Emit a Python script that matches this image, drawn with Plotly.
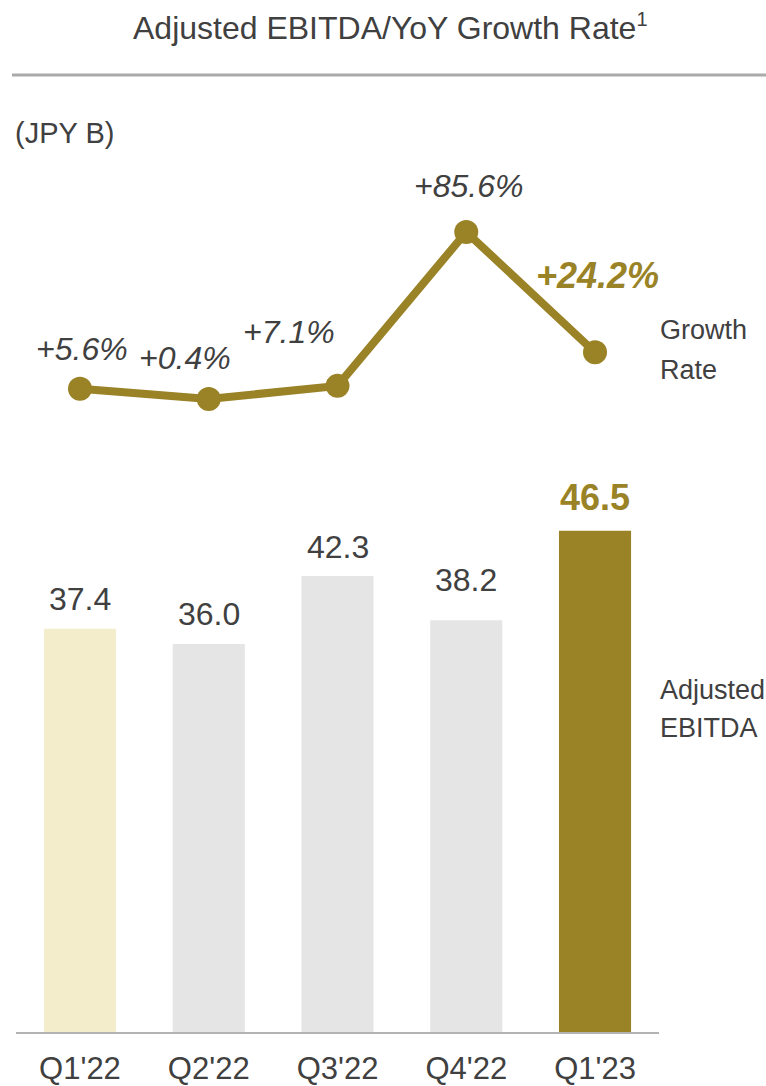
import plotly.graph_objects as go

# ---- data ----
quarters = ["Q1'22", "Q2'22", "Q3'22", "Q4'22", "Q1'23"]
ebitda = [37.4, 36.0, 42.3, 38.2, 46.5]
growth = [5.6, 0.4, 7.1, 85.6, 24.2]
ebitda_labels = ["37.4", "36.0", "42.3", "38.2", "46.5"]
growth_labels = ["+5.6%", "+0.4%", "+7.1%", "+85.6%", "+24.2%"]

# ---- style ----
W, H = 766, 1086
GOLD = "#9a8226"
TXT = "#404040"
bar_colors = ["#f3edcb", "#e5e5e5", "#e5e5e5", "#e5e5e5", GOLD]
FONT = "Liberation Sans, Arial, sans-serif"

def fy(px):
    return (H - px) / H

# label offsets (pixels) relative to their data point
g_shift = [(2, 40), (-24, 41), (-49, 54), (2, 46), (2, 77)]
b_shift = [30, 30, 29, 40, 33]

fig = go.Figure()
fig.add_trace(go.Bar(
    x=quarters, y=ebitda, marker=dict(color=bar_colors, line=dict(width=0)),
    width=0.56, xaxis="x", yaxis="y", hoverinfo="skip",
))
fig.add_trace(go.Scatter(
    x=quarters, y=growth, mode="lines+markers", xaxis="x", yaxis="y2",
    line=dict(color=GOLD, width=8), marker=dict(color=GOLD, size=24),
    cliponaxis=False, hoverinfo="skip",
))

ann = []
for i, (q, v, t) in enumerate(zip(quarters, growth, growth_labels)):
    last = i == len(quarters) - 1
    ann.append(dict(
        x=q, y=v, xref="x", yref="y2", text=f"<i>{'<b>' + t + '</b>' if last else t}</i>",
        showarrow=False, xanchor="center", yanchor="middle",
        xshift=g_shift[i][0], yshift=g_shift[i][1],
        font=dict(family=FONT, size=36 if last else 32, color=GOLD if last else TXT),
    ))
for i, (q, v, t) in enumerate(zip(quarters, ebitda, ebitda_labels)):
    last = i == len(quarters) - 1
    ann.append(dict(
        x=q, y=v, xref="x", yref="y", text=f"<b>{t}</b>" if last else t,
        showarrow=False, xanchor="center", yanchor="middle", yshift=b_shift[i],
        font=dict(family=FONT, size=36 if last else 32, color=GOLD if last else TXT),
    ))

def side(text, px_y, size=27, anchor="left", x=658):
    return dict(x=x / W, y=fy(px_y), xref="paper", yref="paper", text=text,
                showarrow=False, xanchor=anchor, yanchor="middle",
                font=dict(family=FONT, size=size, color=TXT))

ann += [
    dict(x=390 / W, y=fy(27), xref="paper", yref="paper",
         text="Adjusted EBITDA/YoY Growth Rate<sup><span style='font-size:20px'>1</span></sup>",
         showarrow=False, xanchor="center", yanchor="middle",
         font=dict(family=FONT, size=32, color=TXT)),
    side("(JPY B)", 133, size=29, x=13),
    side("Growth", 330),
    side("Rate", 370),
    side("Adjusted", 690),
    side("EBITDA", 728),
]

fig.update_layout(
    width=W, height=H, margin=dict(l=0, r=0, t=0, b=0, autoexpand=False),
    paper_bgcolor="white", plot_bgcolor="white", showlegend=False,
    font=dict(family=FONT, color=TXT),
    xaxis=dict(domain=[15.6 / W, 659.4 / W], type="category", range=[-0.5, 4.5],
               showline=True, linecolor="#b3b3b3", linewidth=2, showgrid=False,
               ticks="", ticklabelstandoff=8, anchor="y", automargin=False,
               tickfont=dict(family=FONT, size=31, color=TXT)),
    yaxis=dict(domain=[fy(1032), fy(432)], range=[0, 600 / 10.78],
               visible=False, showgrid=False, zeroline=False, automargin=False),
    yaxis2=dict(domain=[fy(420), fy(180)], range=[-10.31, 112.1], anchor="x",
                visible=False, showgrid=False, zeroline=False, automargin=False),
    annotations=ann,
    shapes=[dict(type="line", xref="paper", yref="paper", x0=12 / W, x1=1,
                 y0=fy(75), y1=fy(75), line=dict(color="#aaaaaa", width=3))],
)

fig.write_html("out.html")
